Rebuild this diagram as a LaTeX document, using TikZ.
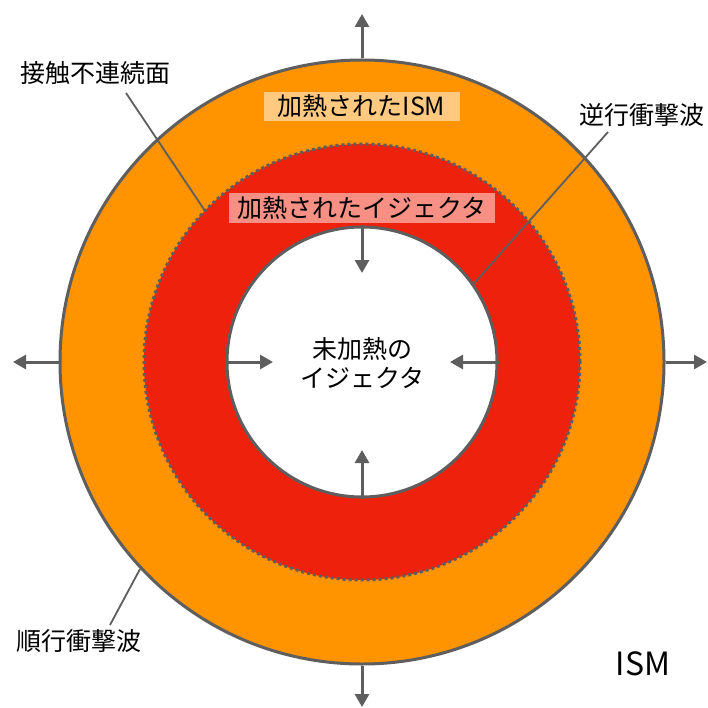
\documentclass[tikz,border=0pt]{standalone}
\usepackage{fontspec}
\newfontfamily\jp{Noto Sans CJK JP}
\usetikzlibrary{arrows.meta}
\definecolor{ringorange}{HTML}{FF9300}
\definecolor{ringred}{HTML}{EE220C}
\definecolor{linegray}{HTML}{5E5E5E}
\definecolor{labelorange}{HTML}{FFC980}
\definecolor{labelred}{HTML}{F69085}
\begin{document}
\begin{tikzpicture}[x=1pt,y=-1pt,
  ring/.style={circle, draw=linegray, line width=3pt, inner sep=0pt},
  flow/.style={draw=linegray, line width=3pt, -{Triangle[width=14pt,length=13pt]}},
  leader/.style={draw=linegray, line width=1.8pt},
  txt/.style={font=\jp\fontsize{25}{29}\selectfont, text=black, inner sep=0pt, align=center},
  tag/.style={txt, minimum height=29pt}]
\useasboundingbox (0,0) rectangle (707,708);
% rings
\node[ring, fill=ringorange, minimum size=604pt] (outer) at (362,362) {};
\node[ring, fill=ringred, line width=3pt, dash pattern=on 3pt off 3pt, minimum size=436pt] (mid) at (362,362) {};
\node[ring, fill=white, minimum size=270pt] (inner) at (362,362) {};
% outward arrows (forward shock)
\coordinate (oN) at (362,14);
\coordinate (oS) at (362,707);
\coordinate (oW) at (13,362);
\coordinate (oE) at (707,362);
\draw[flow] (outer.north) -- (oN);
\draw[flow] (outer.south) -- (oS);
\draw[flow] (outer.west) -- (oW);
\draw[flow] (outer.east) -- (oE);
% inward arrows (reverse shock)
\coordinate (iN) at (362,273);
\coordinate (iS) at (362,450);
\coordinate (iW) at (273,362);
\coordinate (iE) at (450,362);
\draw[flow] (inner.north) -- (iN);
\draw[flow] (inner.south) -- (iS);
\draw[flow] (inner.west) -- (iW);
\draw[flow] (inner.east) -- (iE);
% labels
\node[txt] (lcd) at (95,73) {接触不連続面};
\node[txt] (lrs) at (642,115) {逆行衝撃波};
\node[txt] (lfs) at (79,641) {順行衝撃波};
\node[txt, font=\jp\fontsize{32}{36}\selectfont] (lism) at (643,664) {ISM};
\node[tag, fill=labelorange, minimum width=196pt] (lhism) at (361.5,106.5) {加熱されたISM};
\node[tag, fill=labelred, minimum width=266pt, minimum height=30pt] (lhej) at (362,208) {加熱されたイジェクタ};
\node[txt] (luej) at (362,363) {未加熱の\\イジェクタ};
% leaders
\coordinate (cd0) at (126,93);
\coordinate (rs0) at (608,132);
\coordinate (fs0) at (110,625);
\draw[leader] (cd0) -- (mid.136);
\draw[leader] (rs0) -- (inner.35);
\draw[leader] (fs0) -- (outer.223);
\end{tikzpicture}
\end{document}
